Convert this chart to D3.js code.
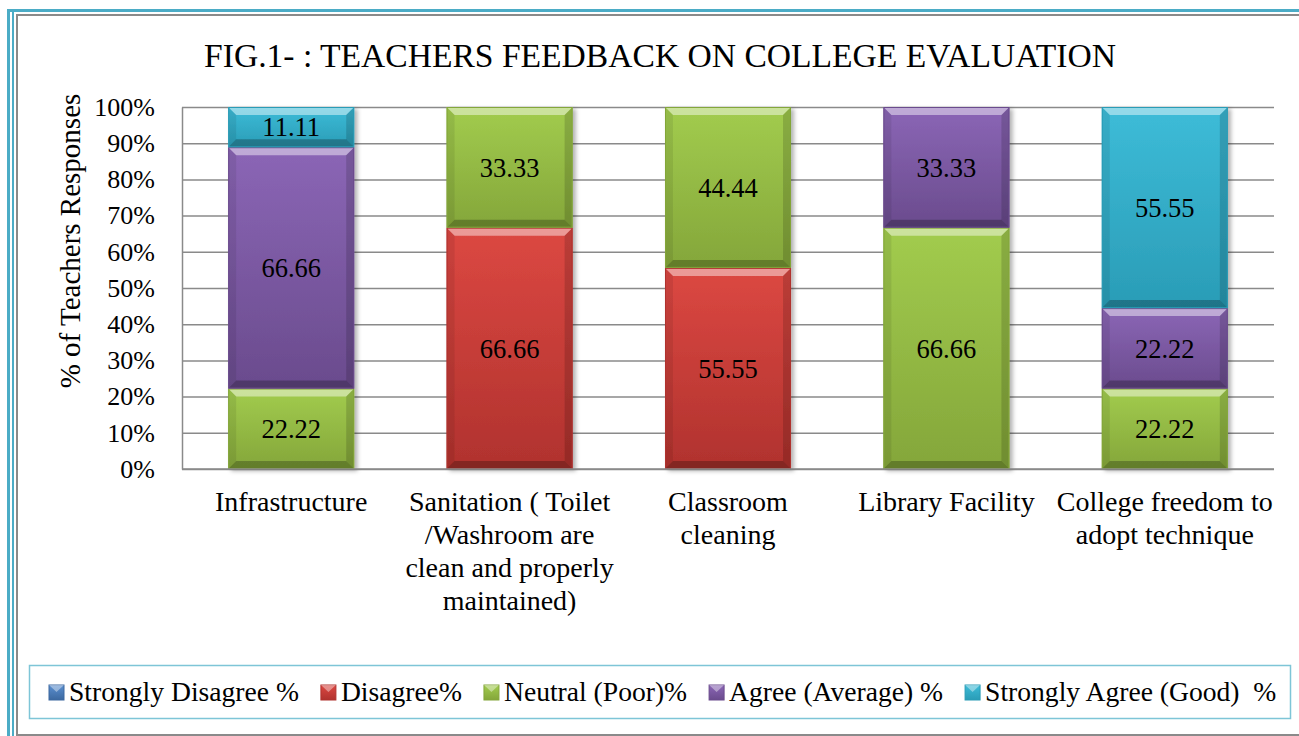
<!DOCTYPE html>
<html>
<head>
<meta charset="utf-8">
<script src="https://cdn.jsdelivr.net/npm/d3@7"></script>
<style>
  body { margin: 0; background: #fff; }
  svg { display: block; font-family: "Liberation Serif", "Times New Roman", serif; }
</style>
</head>
<body>
<div id="chart"></div>
<script>
// categories (line breaks as in the original wrapped labels)
const categories = [
    "Infrastructure",
    "Sanitation ( Toilet\n/Washroom are\nclean and properly\nmaintained)",
    "Classroom\ncleaning",
    "Library Facility",
    "College freedom to\nadopt technique"
];
const seriesNames = ["Strongly Disagree %", "Disagree%", "Neutral (Poor)%", "Agree (Average) %", "Strongly Agree (Good)  %"];

// series values (% of teachers)
const stronglyDisagree = [0, 0, 0, 0, 0];
const disagree = [0, 66.66, 55.55, 0, 0];
const neutral = [22.22, 33.33, 44.44, 66.66, 22.22];
const agree = [66.66, 0, 0, 33.33, 22.22];
const stronglyAgree = [11.11, 0, 0, 0, 55.55];

const yTicks = [0, 0.1, 0.2, 0.3, 0.4, 0.5, 0.6, 0.7, 0.8, 0.9, 1];

const title = "FIG.1- : TEACHERS FEEDBACK ON COLLEGE EVALUATION";
const yTitle = "% of Teachers Responses";

// face gradients (top, bottom) for each series
const colors = [
    ["#5b8fd0", "#3c69a0"],
    ["#dc4842", "#b0322e"],
    ["#a2cc4e", "#84a63a"],
    ["#8b66b6", "#6a4b8d"],
    ["#3dbcd8", "#2a9cb6"]
];

const W = 1299, H = 736;
const margin = { top: 107, right: 25, bottom: 267, left: 182 };
const width = W - margin.left - margin.right;
const height = H - margin.top - margin.bottom;

const svg = d3.select("#chart").append("svg")
    .attr("width", W)
    .attr("height", H);

const defs = svg.append("defs");
colors.forEach((c, i) => {
    const g = defs.append("linearGradient")
        .attr("id", "grad" + i)
        .attr("x1", 0).attr("y1", 0).attr("x2", 0).attr("y2", 1);
    g.append("stop").attr("offset", "0%").attr("stop-color", c[0]);
    g.append("stop").attr("offset", "100%").attr("stop-color", c[1]);
});
defs.append("filter")
    .attr("id", "shadow")
    .attr("x", "-10%").attr("y", "-10%").attr("width", "130%").attr("height", "130%")
    .append("feDropShadow")
    .attr("dx", 3).attr("dy", 2).attr("stdDeviation", 2)
    .attr("flood-color", "#000").attr("flood-opacity", 0.3);

// page frame
svg.append("rect").attr("x", 8.5).attr("y", 10.5).attr("width", W).attr("height", H)
    .attr("fill", "none").attr("stroke", "#4bacc6").attr("stroke-width", 3);
svg.append("line").attr("x1", 13).attr("x2", 13).attr("y1", 10).attr("y2", H)
    .attr("stroke", "#4bacc6").attr("stroke-width", 2);
svg.append("rect").attr("x", 17).attr("y", 15).attr("width", W).attr("height", 720)
    .attr("fill", "none").attr("stroke", "#8a8a8a").attr("stroke-width", 2);

// title
svg.append("text")
    .attr("x", 660).attr("y", 67)
    .attr("text-anchor", "middle")
    .style("font-size", "33.6px")
    .text(title);

// y title
svg.append("text")
    .attr("transform", "translate(80,241) rotate(-90)")
    .attr("text-anchor", "middle")
    .style("font-size", "29px")
    .text(yTitle);

const chart = svg.append("g")
    .attr("transform", "translate(" + margin.left + "," + margin.top + ")");

const x = d3.scaleBand()
    .domain(d3.range(categories.length))
    .range([0, width])
    .paddingInner(0.423)
    .paddingOuter(0.2115);

const y = d3.scaleLinear()
    .domain([0, 1])
    .range([height, 0]);

// grid + y axis
const yAxis = chart.append("g")
    .call(d3.axisLeft(y)
        .tickValues(yTicks)
        .tickFormat(d3.format(".0%"))
        .tickSizeInner(-width)
        .tickSizeOuter(0)
        .tickPadding(27));
yAxis.select(".domain").attr("stroke", "#8a8a8a").attr("stroke-width", 1.5);
yAxis.selectAll(".tick line").attr("stroke", "#8a8a8a").attr("stroke-width", 1.5);
yAxis.selectAll(".tick text")
    .style("font-size", "26px")
    .style("font-family", "'Liberation Serif', 'Times New Roman', serif")
    .attr("fill", "#000");

// stacked data
const seriesValues = [stronglyDisagree, disagree, neutral, agree, stronglyAgree];
const rows = categories.map((c, i) => {
    const r = { idx: i };
    seriesValues.forEach((s, k) => r["s" + k] = s[i]);
    return r;
});
const keys = seriesValues.map((s, k) => "s" + k);
const stacked = d3.stack().keys(keys).offset(d3.stackOffsetExpand)(rows);

const cols = chart.append("g").selectAll("g")
    .data(categories)
    .join("g")
    .attr("filter", "url(#shadow)");

const bw = x.bandwidth();
const bev = 8;

stacked.forEach((layer, k) => {
    layer.forEach((d, i) => {
        const v = seriesValues[k][i];
        if (!v) return;
        const x0 = x(i), y0 = y(d[1]), h = y(d[0]) - y(d[1]);
        const g = d3.select(cols.nodes()[i]).append("g");
        const b = Math.min(bev, h / 2);
        g.append("rect")
            .attr("x", x0).attr("y", y0).attr("width", bw).attr("height", h)
            .attr("fill", "url(#grad" + k + ")");
        const x1 = x0 + bw, y1 = y0 + h;
        const polys = [
            [[x0, y0], [x1, y0], [x1 - b, y0 + b], [x0 + b, y0 + b], "#fff", 0.45],
            [[x0, y1], [x1, y1], [x1 - b, y1 - b], [x0 + b, y1 - b], "#000", 0.25],
            [[x0, y0], [x0 + b, y0 + b], [x0 + b, y1 - b], [x0, y1], "#000", 0.08],
            [[x1, y0], [x1 - b, y0 + b], [x1 - b, y1 - b], [x1, y1], "#000", 0.15]
        ];
        polys.forEach(p => {
            g.append("polygon")
                .attr("points", p.slice(0, 4).map(q => q.join(",")).join(" "))
                .attr("fill", p[4]).attr("fill-opacity", p[5]);
        });
        g.append("rect")
            .attr("x", x0 + 0.5).attr("y", y0 + 0.5).attr("width", bw - 1).attr("height", h - 1)
            .attr("fill", "none").attr("stroke", colors[k][1]).attr("stroke-width", 1);
        chart.append("text")
            .attr("x", x0 + bw / 2)
            .attr("y", y0 + h / 2)
            .attr("dy", "0.35em")
            .attr("text-anchor", "middle")
            .style("font-size", "26.5px")
            .text(d3.format(".2f")(v));
    });
});

// bring labels to front
chart.selectAll(":scope > text").raise();

// x axis line
chart.append("line")
    .attr("x1", 0).attr("x2", width)
    .attr("y1", height).attr("y2", height)
    .attr("stroke", "#8a8a8a").attr("stroke-width", 1.5);

// category labels
categories.forEach((c, i) => {
    const t = chart.append("text")
        .attr("x", x(i) + bw / 2)
        .attr("y", 404)
        .attr("text-anchor", "middle")
        .style("font-size", "28px");
    c.split("\n").forEach((line, j) => {
        t.append("tspan")
            .attr("x", x(i) + bw / 2)
            .attr("dy", j === 0 ? 0 : 33)
            .text(line);
    });
});

// legend
svg.append("rect")
    .attr("x", 29.5).attr("y", 665.5).attr("width", 1261).attr("height", 53)
    .attr("fill", "none").attr("stroke", "#7ec5d7").attr("stroke-width", 1.5);

let lx = 49;
seriesNames.forEach((name, k) => {
    const g = svg.append("g");
    g.append("rect")
        .attr("x", lx).attr("y", 685).attr("width", 15).attr("height", 15)
        .attr("fill", "url(#grad" + k + ")")
        .attr("stroke", colors[k][1]).attr("stroke-width", 1);
    g.append("polygon")
        .attr("points", [[lx, 685], [lx + 15, 685], [lx + 7.5, 692]].map(q => q.join(",")).join(" "))
        .attr("fill", "#fff").attr("fill-opacity", 0.4);
    const t = g.append("text")
        .attr("x", lx + 20).attr("y", 701)
        .style("font-size", "27.6px")
        .style("white-space", "pre")
        .text(name);
    lx = lx + 20 + t.node().getComputedTextLength() + 22;
});
</script>
</body>
</html>
